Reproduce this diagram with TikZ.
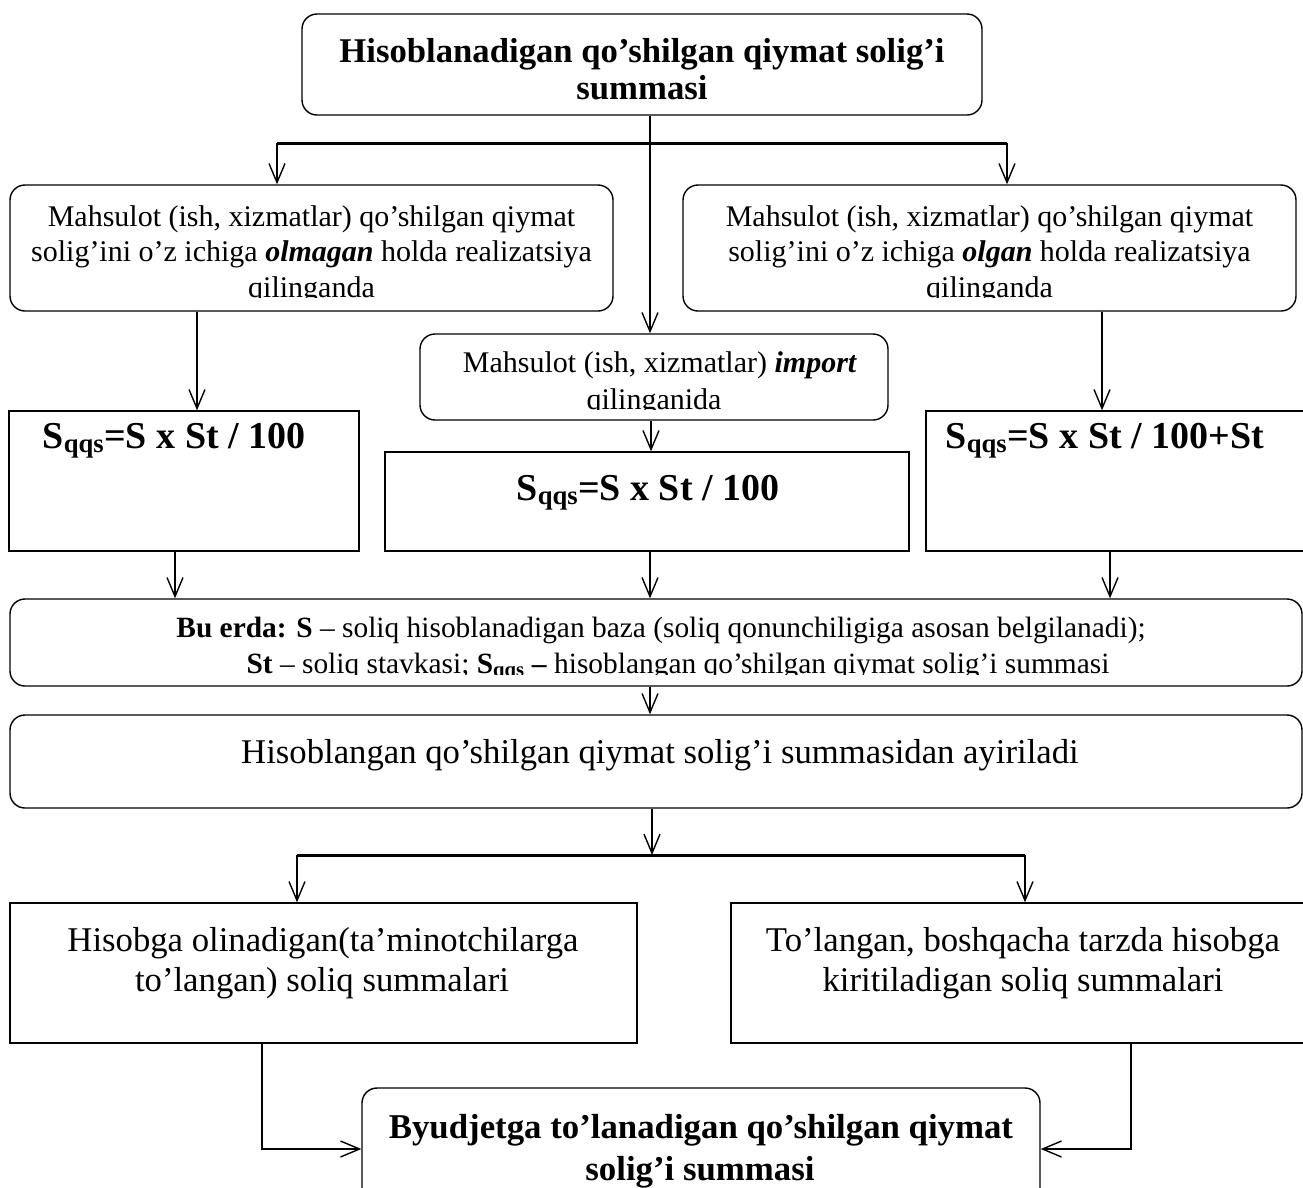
\documentclass[tikz,border=0pt]{standalone}
\usepackage{fontspec}
\setmainfont{Liberation Serif}
\usetikzlibrary{arrows.meta}
\newcommand{\fsz}[1]{\fontsize{#1}{#1}\selectfont}

\begin{document}
\begin{tikzpicture}[x=1pt,y=-1pt,line width=1.4pt,
  rbox/.style={draw,rounded corners=15pt,inner sep=0pt},
  sbox/.style={draw,inner sep=0pt},
  ln/.style={anchor=base,inner sep=0pt},
  lnw/.style={anchor=base west,inner sep=0pt},
  arr/.style={-{Straight Barb[length=19pt,width=16pt,line width=1.4pt]}},
  bus/.style={line width=3pt}]
\useasboundingbox (0,0) rectangle (1303,1187);

% ---------- boxes ----------
\node[rbox,minimum width=680pt,minimum height=101pt] (top) at (642,64.5) {};
\node[rbox,minimum width=603pt,minimum height=126pt] (mL) at (311.5,248) {};
\node[rbox,minimum width=613pt,minimum height=126pt] (mR) at (989.5,248) {};
\node[rbox,minimum width=468pt,minimum height=86pt] (imp) at (654,377) {};
\node[sbox,minimum width=350pt,minimum height=140pt] (fL) at (184,481) {};
\node[sbox,minimum width=524pt,minimum height=99pt] (fM) at (647,501.5) {};
\node[sbox,minimum width=394pt,minimum height=140pt] (fR) at (1123,481) {};
\node[rbox,minimum width=1292pt,minimum height=87pt] (bu) at (656,642.5) {};
\node[rbox,minimum width=1292pt,minimum height=93pt] (hs) at (656,761.5) {};
\node[sbox,minimum width=627pt,minimum height=140pt] (bL) at (323.5,973) {};
\node[sbox,minimum width=589pt,minimum height=140pt] (bR) at (1025.5,973) {};
\node[rbox,minimum width=678pt,minimum height=122pt] (bot) at (701,1149) {};

% ---------- texts ----------
\node[ln,font=\fsz{34.7}\bfseries] (t1) at (642,62) {Hisoblanadigan qo’shilgan qiymat solig’i};
\node[ln,font=\fsz{34.7}\bfseries] (t2) at (642,99) {summasi};

\begin{scope}
  \clip (10,185) rectangle (613,297.5);
  \node[ln,font=\fsz{30}] (mL1) at (311.5,226) {Mahsulot (ish, xizmatlar) qo’shilgan qiymat};
  \node[ln,font=\fsz{30}] (mL2) at (311.5,261.5) {solig’ini o’z ichiga \textbf{\textit{olmagan}} holda realizatsiya};
  \node[ln,font=\fsz{30}] (mL3) at (311.5,297) {qilinganda};
\end{scope}
\begin{scope}
  \clip (683,185) rectangle (1296,297.5);
  \node[ln,font=\fsz{30}] (mR1) at (989.5,226) {Mahsulot (ish, xizmatlar) qo’shilgan qiymat};
  \node[ln,font=\fsz{30}] (mR2) at (989.5,261.5) {solig’ini o’z ichiga \textbf{\textit{olgan}} holda realizatsiya};
  \node[ln,font=\fsz{30}] (mR3) at (989.5,297) {qilinganda};
\end{scope}
\begin{scope}
  \clip (420,334) rectangle (888,409.5);
  \node[ln,font=\fsz{30}] (im1) at (660,372) {Mahsulot (ish, xizmatlar) \textbf{\textit{import}}};
  \node[ln,font=\fsz{30}] (im2) at (654,409) {qilinganida};
\end{scope}

\node[lnw,font=\fsz{38}\bfseries] (fLt) at (42,448) {S\textsubscript{qqs}=S x St / 100};
\node[ln,font=\fsz{38}\bfseries] (fMt) at (648,500) {S\textsubscript{qqs}=S x St / 100};
\node[lnw,font=\fsz{38}\bfseries] (fRt) at (945,448) {S\textsubscript{qqs}=S x St / 100+St};

\begin{scope}
  \clip (10,599) rectangle (1303,674);
  \node[ln,font=\fsz{29.4}] (bu1) at (661,637) {\textbf{Bu erda: S} – soliq hisoblanadigan baza (soliq qonunchiligiga asosan belgilanadi);};
  \node[ln,font=\fsz{29.4}] (bu2) at (678,673) {\textbf{St} – soliq stavkasi; \textbf{S\textsubscript{qqs} –} hisoblangan qo’shilgan qiymat solig’i summasi};
\end{scope}

\node[ln,font=\fsz{34.7}] (hst) at (660,763) {Hisoblangan qo’shilgan qiymat solig’i summasidan ayiriladi};

\node[ln,font=\fsz{34.7}] (bL1) at (323,951) {Hisobga olinadigan(ta’minotchilarga};
\node[ln,font=\fsz{34.7}] (bL2) at (322,991) {to’langan) soliq summalari};
\node[ln,font=\fsz{34.7}] (bR1) at (1023,951) {To’langan, boshqacha tarzda hisobga};
\node[ln,font=\fsz{34.7}] (bR2) at (1023,991) {kiritiladigan soliq summalari};

\node[ln,font=\fsz{34.8}\bfseries] (bo1) at (701,1138) {Byudjetga to’lanadigan qo’shilgan qiymat};
\node[ln,font=\fsz{34.8}\bfseries] (bo2) at (700,1180) {solig’i summasi};

% ---------- connectors ----------
\coordinate (bus1L) at (277,143);
\coordinate (bus1R) at (1007,143);
\coordinate (stem) at ([xshift=-4pt]imp.north);
\draw[arr] (top.south -| stem) -- (stem);
\draw[bus] (bus1L) -- (bus1R);
\draw[arr] (bus1L) -- (bus1L |- mL.north);
\draw[arr] (bus1R) -- (bus1R |- mR.north);

\coordinate (a1) at ([xshift=-114.5pt]mL.south);
\coordinate (a2) at ([xshift=112.5pt]mR.south);
\coordinate (a3) at ([xshift=-3pt]imp.south);
\draw[arr] (a1) -- (a1 |- fL.north);
\draw[arr] (a2) -- (a2 |- fR.north);
\draw[arr] (a3) -- (a3 |- fM.north);

\coordinate (b1) at ([xshift=-9pt]fL.south);
\coordinate (b2) at ([xshift=3pt]fM.south);
\coordinate (b3) at ([xshift=-13pt]fR.south);
\draw[arr] (b1) -- (b1 |- bu.north);
\draw[arr] (b2) -- (b2 |- bu.north);
\draw[arr] (b3) -- (b3 |- bu.north);

\coordinate (c1) at ([xshift=-6pt]bu.south);
\draw[arr] (c1) -- (c1 |- hs.north);

\coordinate (bus2L) at (297,855);
\coordinate (bus2R) at (1025,855);
\coordinate (c2) at ([xshift=-4pt]hs.south);
\draw[arr] (c2) -- (c2 |- bus2L);
\draw[bus] (bus2L) -- (bus2R);
\draw[arr] (bus2L) -- (bus2L |- bL.north);
\draw[arr] (bus2R) -- (bus2R |- bR.north);

\coordinate (d1) at ([xshift=-61.5pt]bL.south);
\coordinate (d2) at ([xshift=105.5pt]bR.south);
\draw[arr] (d1) |- (bot.west);
\draw[arr] (d2) |- (bot.east);
\end{tikzpicture}
\end{document}
